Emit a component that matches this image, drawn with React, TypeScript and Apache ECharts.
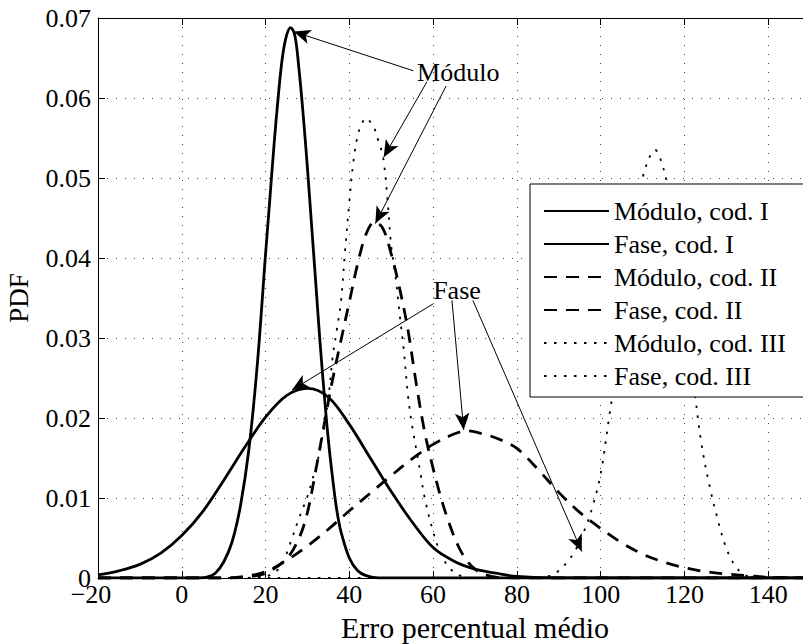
import React, { useEffect, useRef } from "react";
import * as echarts from "echarts";

// ---- data ----
const seriesNames = [
  "Módulo, cod. I",
  "Fase, cod. I",
  "Módulo, cod. II",
  "Fase, cod. II",
  "Módulo, cod. III",
  "Fase, cod. III",
];

const moduloI: [number, number][] = [
  [-20, 0], [4, 0], [6, 0.0001], [8, 0.0006], [10, 0.002], [12, 0.0045], [14, 0.009],
  [16, 0.016], [18, 0.0265], [20, 0.0405], [21, 0.0472], [22, 0.054], [23, 0.06],
  [24, 0.065], [25, 0.0678], [26, 0.0688], [27, 0.0678], [28, 0.0635], [29, 0.0578],
  [30, 0.0512], [31, 0.044], [32, 0.0368], [33, 0.0295], [34, 0.023], [35, 0.0172],
  [36, 0.0125], [37, 0.0085], [38, 0.0058], [40, 0.0025], [42, 0.0009], [44, 0.0003],
  [47, 0], [160, 0],
];

const faseI: [number, number][] = [
  [-20, 0.0004], [-15, 0.0009], [-10, 0.0017], [-5, 0.0031], [0, 0.0053], [5, 0.0083],
  [10, 0.0122], [15, 0.0163], [20, 0.0201], [25, 0.0228], [30, 0.0237], [35, 0.0226],
  [40, 0.0192], [45, 0.015], [50, 0.0108], [55, 0.007], [60, 0.0038], [65, 0.0021],
  [70, 0.0011], [75, 0.0006], [80, 0.0002], [90, 0], [160, 0],
];

const moduloII: [number, number][] = [
  [-20, 0], [10, 0], [15, 0.0001], [20, 0.0006], [25, 0.0024], [28, 0.005], [30, 0.0082],
  [32, 0.0135], [34, 0.0192], [36, 0.0248], [38, 0.0297], [40, 0.0345], [42, 0.0393],
  [44, 0.043], [46, 0.0445], [48, 0.0437], [50, 0.0405], [52, 0.0362], [54, 0.031],
  [56, 0.0242], [58, 0.0182], [60, 0.0137], [62, 0.0098], [64, 0.0066], [66, 0.004],
  [68, 0.0022], [70, 0.0011], [72, 0.0005], [75, 0.0001], [80, 0], [160, 0],
];

const faseII: [number, number][] = [
  [-20, 0], [10, 0], [15, 0.0002], [20, 0.0008], [25, 0.0022], [30, 0.004], [35, 0.0061],
  [40, 0.0084], [45, 0.0106], [50, 0.0128], [55, 0.0149], [60, 0.0167], [65, 0.018],
  [68, 0.0184], [72, 0.018], [76, 0.0173], [80, 0.0162], [85, 0.0136], [90, 0.0107],
  [95, 0.0082], [100, 0.0062], [105, 0.0044], [110, 0.003], [115, 0.002], [120, 0.0013],
  [125, 0.0008], [130, 0.0005], [135, 0.0003], [140, 0.0001], [150, 0], [160, 0],
];

const moduloIII: [number, number][] = [
  [-20, 0], [15, 0], [18, 0.0001], [20, 0.0002], [22, 0.0006], [24, 0.0018], [26, 0.0045],
  [28, 0.0075], [30, 0.0102], [31, 0.012], [32, 0.0138], [33, 0.016], [34, 0.019],
  [35, 0.0225], [36, 0.0275], [37, 0.031], [38, 0.0345], [39, 0.041], [40, 0.047],
  [41, 0.0522], [42, 0.0553], [43, 0.0568], [44, 0.0575], [45, 0.057], [46, 0.0562],
  [47, 0.0545], [48, 0.0528], [49, 0.048], [50, 0.0415], [51, 0.0378], [52, 0.033],
  [53, 0.0285], [54, 0.0228], [55, 0.019], [56, 0.016], [57, 0.013], [58, 0.01],
  [60, 0.0058], [62, 0.0028], [64, 0.0012], [66, 0.0004], [68, 0.0001], [70, 0], [160, 0],
];

const faseIII: [number, number][] = [
  [-20, 0], [85, 0], [88, 0.0003], [90, 0.0009], [92, 0.002], [94, 0.0035], [96, 0.0058],
  [98, 0.0088], [100, 0.013], [102, 0.02], [104, 0.0272], [106, 0.0355], [108, 0.0435],
  [110, 0.05], [112, 0.053], [113, 0.0535], [114, 0.0528], [116, 0.049], [118, 0.0418],
  [120, 0.0338], [122, 0.0252], [124, 0.017], [126, 0.0115], [128, 0.0072], [130, 0.0037],
  [132, 0.0016], [134, 0.0005], [136, 0.0001], [140, 0], [160, 0],
];

// annotation arrows: [from (text side), to (curve point)] in data coordinates
const arrowFrom: [number, number][] = [
  [55.3, 0.0634], [58.5, 0.062], [63.1, 0.0615],
  [60.1, 0.0343], [64.5, 0.0347], [69.5, 0.0347],
];
const arrowTo: [number, number][] = [
  [26.7, 0.0683], [48.2, 0.0526], [46.2, 0.0443],
  [26.3, 0.0235], [67.3, 0.0185], [95.5, 0.0033],
];
const annotationTexts = ["Módulo", "Fase"];
const annotationAt: [number, number][] = [[66, 0.0632], [65.7, 0.0359]];

const xMin = -20;
const xMax = 160;
const xStep = 20;
const yMin = 0;
const yMax = 0.07;
const yStep = 0.01;

const FONT = "'Liberation Serif', 'Times New Roman', serif";

export default function App() {
  const ref = useRef<HTMLDivElement>(null);

  useEffect(() => {
    if (!ref.current) return;
    const chart = echarts.init(ref.current, null, { renderer: "svg" });

    const solid = { color: "#000", width: 2.8, type: "solid" as const };
    const dashed = { color: "#000", width: 2.8, type: [13, 9] as number[] };
    const dotted = { color: "#000", width: 1.8, type: [2.5, 7.5] as number[] };
    const styles = [solid, solid, dashed, dashed, dotted, dotted];
    const datas = [moduloI, faseI, moduloII, faseII, moduloIII, faseIII];

    const series: any[] = datas.map((d, i) => ({
      name: seriesNames[i],
      type: "line",
      data: d,
      symbol: "none",
      showSymbol: false,
      smooth: 0.35,
      color: "#000",
      lineStyle: styles[i],
      clip: true,
      z: 2,
    }));

    series.push({
      name: "annotations",
      type: "line",
      data: [],
      symbol: "none",
      markLine: {
        silent: true,
        animation: false,
        symbol: ["none", "arrow"],
        symbolSize: [11, 17],
        lineStyle: { color: "#000", width: 1, type: "solid" },
        label: { show: false },
        data: arrowFrom.map((f, i) => [
          { coord: f },
          { coord: arrowTo[i] },
        ]),
      },
      markPoint: {
        silent: true,
        animation: false,
        symbol: "rect",
        symbolSize: 0,
        label: {
          show: true,
          position: "inside",
          formatter: "{b}",
          color: "#000",
          fontSize: 26,
          fontFamily: FONT,
        },
        data: annotationTexts.map((t, i) => ({ name: t, coord: annotationAt[i] })),
      },
      z: 5,
    });

    const axisLine = { show: true, onZero: false, lineStyle: { color: "#000", width: 1 } };
    const tick = { show: true, inside: true, length: 7, lineStyle: { color: "#000", width: 1 } };
    const grid = { show: true, lineStyle: { color: "#444", width: 1, type: [1, 8] } };
    const labelFont = { color: "#000", fontSize: 26, fontFamily: FONT };

    chart.setOption({
      animation: false,
      backgroundColor: "#fff",
      grid: {
        left: 98,
        top: 18,
        width: 754,
        height: 560,
        containLabel: false,
        outerBoundsMode: "none",
      },
      legend: {
        data: seriesNames,
        orient: "vertical",
        left: 530,
        top: 184,
        padding: [14, 30, 8, 13],
        itemGap: 7,
        itemWidth: 65,
        itemHeight: 14,
        selectedMode: false,
        backgroundColor: "#fff",
        borderColor: "#000",
        borderWidth: 1,
        borderRadius: 0,
        itemStyle: { opacity: 0, borderWidth: 0 },
        textStyle: { color: "#000", fontSize: 26, fontFamily: FONT },
      },
      xAxis: [
        {
          type: "value",
          min: xMin,
          max: xMax,
          interval: xStep,
          position: "bottom",
          axisLine,
          axisTick: tick,
          axisLabel: {
            ...labelFont,
            margin: 3,
            showMaxLabel: false,
            formatter: (v: number) =>
              v < 0 ? "{neg|\u2212" + Math.abs(v) + "}" : String(v),
            rich: {
              neg: { ...labelFont, padding: [0, 14, 0, 0] },
            },
          },
          splitLine: grid,
          name: "Erro percentual médio",
          nameLocation: "middle",
          nameGap: 34,
          nameTextStyle: { color: "#000", fontSize: 30, fontFamily: FONT },
        },
        {
          type: "value",
          min: xMin,
          max: xMax,
          interval: xStep,
          position: "top",
          axisLine,
          axisTick: tick,
          axisLabel: { show: false },
          splitLine: { show: false },
        },
      ],
      yAxis: [
        {
          type: "value",
          min: yMin,
          max: yMax,
          interval: yStep,
          position: "left",
          axisLine,
          axisTick: tick,
          axisLabel: {
            ...labelFont,
            margin: 7,
            formatter: (v: number) => (v === 0 ? "0" : v.toFixed(2)),
          },
          splitLine: grid,
          name: "PDF",
          nameLocation: "middle",
          nameRotate: 90,
          nameGap: 66,
          nameTextStyle: { color: "#000", fontSize: 27, fontFamily: FONT },
        },
        {
          type: "value",
          min: yMin,
          max: yMax,
          interval: yStep,
          position: "right",
          axisLine,
          axisTick: tick,
          axisLabel: { show: false },
          splitLine: { show: false },
        },
      ],
      series,
    });

    return () => chart.dispose();
  }, []);

  return (
    <div
      ref={ref}
      style={{ position: "absolute", left: 0, top: 0, width: 803, height: 644, background: "#fff" }}
    />
  );
}
